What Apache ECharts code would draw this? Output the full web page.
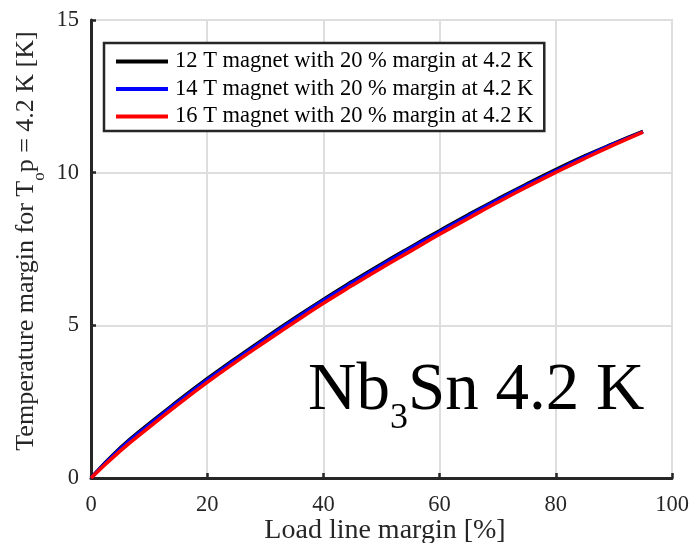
<!DOCTYPE html>
<html>
<head>
<meta charset="utf-8">
<script src="https://cdn.jsdelivr.net/npm/echarts@6/dist/echarts.min.js"></script>
<style>
  html, body { margin: 0; padding: 0; background: #fff; }
  #chart { width: 692px; height: 543px; }
</style>
</head>
<body>
<div id="chart"></div>
<script>
// Load line margin [%]
const loadLineMargin = [0, 5, 10, 15, 20, 25, 30, 35, 40, 45, 50, 55, 60, 65, 70, 75, 80, 85, 90, 95];
// Temperature margin [K] for each magnet design
const margin12T = [0, 0.98, 1.78, 2.53, 3.25, 3.93, 4.59, 5.23, 5.85, 6.44, 7.01, 7.56, 8.10, 8.63, 9.14, 9.63, 10.10, 10.55, 10.96, 11.35];
const margin14T = [0, 0.95, 1.74, 2.49, 3.21, 3.89, 4.55, 5.19, 5.81, 6.40, 6.97, 7.52, 8.06, 8.59, 9.10, 9.59, 10.06, 10.52, 10.94, 11.34];
const margin16T = [0, 0.88, 1.66, 2.41, 3.13, 3.81, 4.46, 5.10, 5.72, 6.31, 6.88, 7.43, 7.98, 8.51, 9.03, 9.53, 10.01, 10.47, 10.91, 11.33];
const seriesNames = [
  '12 T magnet with 20 % margin at 4.2 K',
  '14 T magnet with 20 % margin at 4.2 K',
  '16 T magnet with 20 % margin at 4.2 K'
];
const seriesColors = ['#000000', '#0000ff', '#ff0000'];
const xTicks = [0, 20, 40, 60, 80, 100];
const yTicks = [0, 5, 10, 15];

const FONT = 'Liberation Serif';
const INK = '#262626';

function pairs(ys) { return loadLineMargin.map((x, i) => [x, ys[i]]); }

const chart = echarts.init(document.getElementById('chart'), null, { renderer: 'canvas' });

chart.setOption({
  animation: false,
  backgroundColor: '#ffffff',
  textStyle: { fontFamily: FONT },
  grid: {
    left: 91, right: 20, top: 20, bottom: 65,
    outerBoundsMode: 'none',
    containLabel: false,
    show: true, borderColor: '#dedede', borderWidth: 2
  },
  // material label inside the plot, with subscript 3
  title: {
    left: 308, top: 358, padding: 0,
    text: '{a|Nb}{s|3}{a|Sn 4.2 K}',
    textStyle: {
      fontWeight: 'normal',
      rich: {
        a: { fontFamily: FONT, fontSize: 67, fontWeight: 'normal', color: '#000', lineHeight: 70, verticalAlign: 'top' },
        s: { fontFamily: FONT, fontSize: 36, fontWeight: 'normal', color: '#000', lineHeight: 36, verticalAlign: 'top', padding: [43, 0, 0, 0] }
      }
    }
  },
  legend: {
    orient: 'vertical',
    left: 104, top: 43,
    backgroundColor: '#ffffff',
    borderColor: INK, borderWidth: 2.5, borderRadius: 0,
    padding: [7, 11, 3, 12],
    itemGap: 4.5,
    itemWidth: 52, itemHeight: 4,
    icon: 'rect',
    textStyle: { fontFamily: FONT, fontSize: 22.5, color: '#000', lineHeight: 23, padding: [0, 0, 0, 2] },
    data: seriesNames
  },
  xAxis: {
    type: 'value', min: 0, max: 100, interval: 20,
    name: 'Load line margin [%]', nameLocation: 'middle', nameGap: 39,
    nameMoveOverlap: false,
    nameTextStyle: { fontFamily: FONT, fontSize: 28, color: INK, padding: [0, 0, 0, 7] },
    axisLine: { lineStyle: { color: INK, width: 3 } },
    axisTick: { inside: true, length: 5, lineStyle: { color: INK, width: 2.5 } },
    axisLabel: {
      margin: 16, fontFamily: FONT, fontSize: 22.5, color: INK,
      customValues: xTicks
    },
    splitLine: { lineStyle: { color: '#dedede', width: 2 } }
  },
  yAxis: {
    type: 'value', min: 0, max: 15, interval: 5,
    name: '{t|Temperature margin for T}{o|o}{t|p = 4.2 K [K]}',
    nameLocation: 'middle', nameGap: 50, nameRotate: 90,
    nameMoveOverlap: false,
    nameTextStyle: {
      padding: [0, 0, 0, 16],
      rich: {
        t: { fontFamily: FONT, fontSize: 26, color: INK, lineHeight: 28, verticalAlign: 'top' },
        o: { fontFamily: FONT, fontSize: 17, color: INK, lineHeight: 17, verticalAlign: 'top', padding: [18.5, 0, 0, 0] }
      }
    },
    axisLine: { lineStyle: { color: INK, width: 3 } },
    axisTick: { inside: true, length: 5, lineStyle: { color: INK, width: 2.5 } },
    axisLabel: {
      margin: 12, fontFamily: FONT, fontSize: 22.5, color: INK,
      customValues: yTicks
    },
    splitLine: { lineStyle: { color: '#dedede', width: 2 } }
  },
  series: [margin12T, margin14T, margin16T].map((ys, i) => ({
    name: seriesNames[i],
    type: 'line',
    data: pairs(ys),
    smooth: true,
    showSymbol: false,
    symbol: 'none',
    color: seriesColors[i],
    lineStyle: { color: seriesColors[i], width: 3.5 },
    z: 2 + i
  }))
});
</script>
</body>
</html>
